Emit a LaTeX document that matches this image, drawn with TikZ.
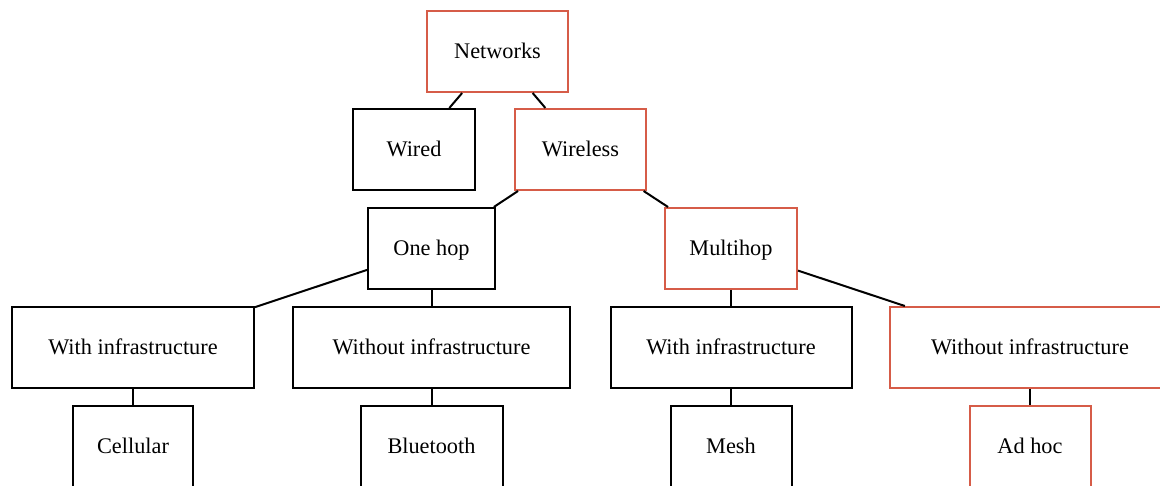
\documentclass[tikz,border=0pt]{standalone}
\usepackage{fontspec}
\setmainfont{Liberation Serif}
\definecolor{hl}{RGB}{214,92,72}
\begin{document}
\begin{tikzpicture}[x=1pt,y=-1pt,
  box/.style={draw=black,line width=2pt,rectangle,inner sep=0pt,minimum height=81pt,
    font=\fontsize{22.3}{26}\selectfont,text=black,text depth=0.5pt,text height=14.5pt},
  hlbox/.style={box,draw=hl},
  link/.style={line width=2pt,draw=black}]
\useasboundingbox (0,0) rectangle (1160,486);
\clip (0,0) rectangle (1160,486);
% level 0
\node[hlbox,minimum width=141pt] (net) at (497.5,51.5) {Networks};
% level 1
\node[box,minimum width=122pt] (wired) at (414,149.5) {Wired};
\node[hlbox,minimum width=131pt] (wless) at (580.5,149.5) {Wireless};
% level 2
\node[box,minimum width=127pt] (one) at (431.5,248.5) {One hop};
\node[hlbox,minimum width=132pt] (multi) at (731,248.5) {Multihop};
% level 3
\node[box,minimum width=242pt] (wi1) at (133,347.5) {With infrastructure};
\node[box,minimum width=277pt] (wo1) at (431.5,347.5) {Without infrastructure};
\node[box,minimum width=241pt] (wi2) at (731,347.5) {With infrastructure};
\node[hlbox,minimum width=280pt] (wo2) at (1030,347.5) {Without infrastructure};
% level 4
\node[box,minimum width=120pt] (cell) at (133,446.5) {Cellular};
\node[box,minimum width=142pt] (blue) at (431.5,446.5) {Bluetooth};
\node[box,minimum width=121pt] (mesh) at (731,446.5) {Mesh};
\node[hlbox,minimum width=121pt] (adhoc) at (1030,446.5) {Ad hoc};
% connectors
\draw[link] (net) -- (wired);
\draw[link] (net) -- (wless);
\draw[link] (wless) -- (one);
\draw[link] (wless) -- (multi);
\draw[link] (one) -- (wi1);
\draw[link] (one) -- (wo1);
\draw[link] (multi) -- (wi2);
\draw[link] (multi) -- (wo2);
\draw[link] (wi1) -- (cell);
\draw[link] (wo1) -- (blue);
\draw[link] (wi2) -- (mesh);
\draw[link] (wo2) -- (adhoc);
\end{tikzpicture}
\end{document}
